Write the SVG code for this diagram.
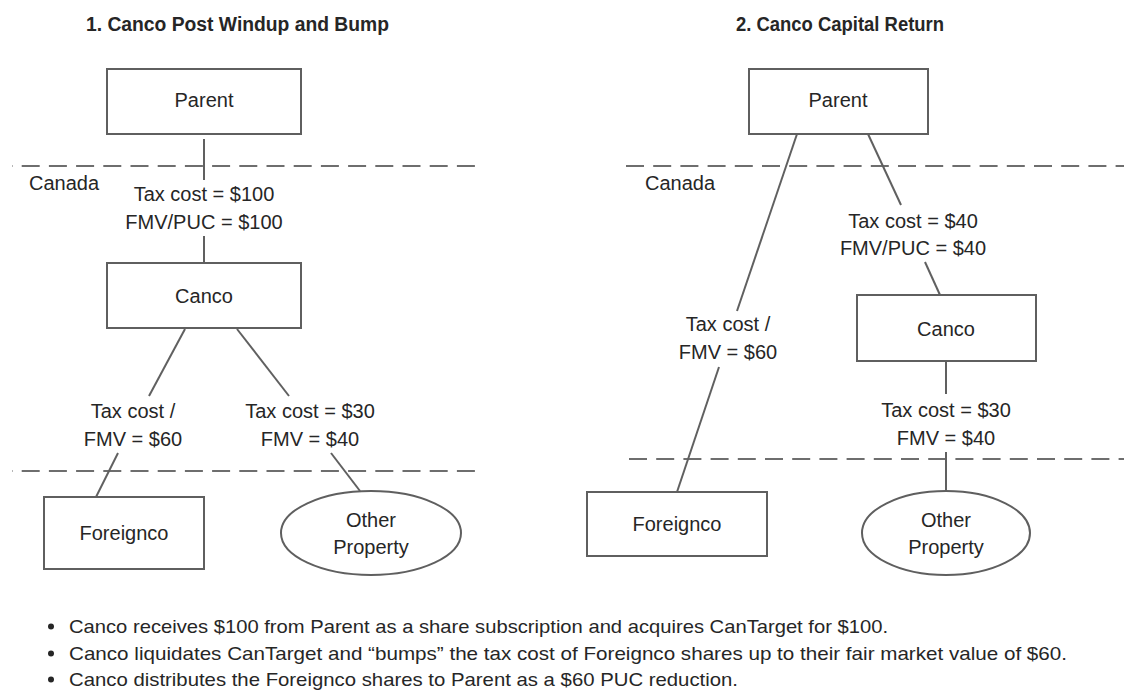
<svg xmlns="http://www.w3.org/2000/svg" width="1124" height="690" viewBox="0 0 1124 690">
<style>
text{font-family:"Liberation Sans",Arial,sans-serif;fill:#262626}
.t{font-size:20px;text-anchor:middle}
.s{font-size:20px}
.h{font-size:19.5px;font-weight:bold}
.b{font-size:19px}
.box{fill:#fff;stroke:#5f5f5f;stroke-width:2}
.ln{stroke:#606060;stroke-width:2;fill:none}
.dash{stroke:#6e6e6e;stroke-width:2.2;stroke-dasharray:18 9.2;fill:none}
</style>
<rect width="1124" height="690" fill="#fff"/>

<text class="h" x="86" y="31" textLength="303" lengthAdjust="spacingAndGlyphs">1. Canco Post Windup and Bump</text>
<text class="h" x="736" y="31" textLength="208" lengthAdjust="spacingAndGlyphs">2.  Canco Capital Return</text>

<g id="borders">
<line class="dash" x1="12" y1="166" x2="475" y2="166" stroke-dashoffset="17.5"/>
<line class="dash" x1="12" y1="471" x2="475" y2="471" stroke-dashoffset="17.5"/>
<line class="dash" x1="626" y1="166" x2="1124" y2="166"/>
<line class="dash" x1="629" y1="459" x2="1124" y2="459"/>
<text class="s" x="29" y="190">Canada</text>
<text class="s" x="645" y="190">Canada</text>
</g>

<g id="connectors">
<line class="ln" x1="204" y1="139" x2="204" y2="180"/>
<line class="ln" x1="204" y1="236" x2="204" y2="263"/>
<line class="ln" x1="185" y1="329" x2="149" y2="396"/>
<line class="ln" x1="237" y1="329" x2="289" y2="396"/>
<line class="ln" x1="118" y1="453" x2="96" y2="497"/>
<line class="ln" x1="331" y1="453" x2="360" y2="491"/>
<line class="ln" x1="797" y1="134" x2="737" y2="311"/>
<line class="ln" x1="719" y1="367" x2="677" y2="492"/>
<line class="ln" x1="868" y1="134" x2="901" y2="205"/>
<line class="ln" x1="925" y1="262" x2="940" y2="295"/>
<line class="ln" x1="946" y1="361" x2="946" y2="394"/>
<line class="ln" x1="946" y1="452" x2="946" y2="491"/>
</g>

<g id="labels">
<text class="t" x="204" y="201">Tax cost = $100</text>
<text class="t" x="204" y="229">FMV/PUC = $100</text>
<text class="t" x="133" y="418">Tax cost /</text>
<text class="t" x="133" y="446">FMV = $60</text>
<text class="t" x="310" y="418">Tax cost = $30</text>
<text class="t" x="310" y="446">FMV = $40</text>
<text class="t" x="728" y="331">Tax cost /</text>
<text class="t" x="728" y="359">FMV = $60</text>
<text class="t" x="913" y="228">Tax cost = $40</text>
<text class="t" x="913" y="255">FMV/PUC = $40</text>
<text class="t" x="946" y="417">Tax cost = $30</text>
<text class="t" x="946" y="445">FMV = $40</text>
</g>

<g id="parent1"><rect class="box" x="107" y="69" width="194" height="65"/><text class="t" x="204" y="107">Parent</text></g>
<g id="canco1"><rect class="box" x="107" y="263" width="194" height="65"/><text class="t" x="204" y="303">Canco</text></g>
<g id="foreignco1"><rect class="box" x="44" y="497" width="160" height="72"/><text class="t" x="124" y="540">Foreignco</text></g>
<g id="other1"><ellipse class="box" cx="371" cy="533" rx="90" ry="42"/><text class="t" x="371" y="527">Other</text><text class="t" x="371" y="554">Property</text></g>

<g id="parent2"><rect class="box" x="749" y="69" width="179" height="65"/><text class="t" x="838" y="107">Parent</text></g>
<g id="canco2"><rect class="box" x="857" y="295" width="179" height="66"/><text class="t" x="946" y="336">Canco</text></g>
<g id="foreignco2"><rect class="box" x="587" y="492" width="180" height="64"/><text class="t" x="677" y="531">Foreignco</text></g>
<g id="other2"><ellipse class="box" cx="946" cy="533" rx="84" ry="42"/><text class="t" x="946" y="527">Other</text><text class="t" x="946" y="554">Property</text></g>

<g id="notes">
<circle cx="51" cy="626.5" r="3" fill="#262626"/>
<circle cx="51" cy="653.5" r="3" fill="#262626"/>
<circle cx="51" cy="679.5" r="3" fill="#262626"/>
<text class="b" x="69" y="633" textLength="819" lengthAdjust="spacingAndGlyphs">Canco receives $100 from Parent as a share subscription and acquires CanTarget for $100.</text>
<text class="b" x="69" y="660" textLength="998" lengthAdjust="spacingAndGlyphs">Canco liquidates CanTarget and “bumps” the tax cost of Foreignco shares up to their fair market value of $60.</text>
<text class="b" x="69" y="686" textLength="669" lengthAdjust="spacingAndGlyphs">Canco distributes the Foreignco shares to Parent as a  $60 PUC reduction.</text>
</g>
</svg>
